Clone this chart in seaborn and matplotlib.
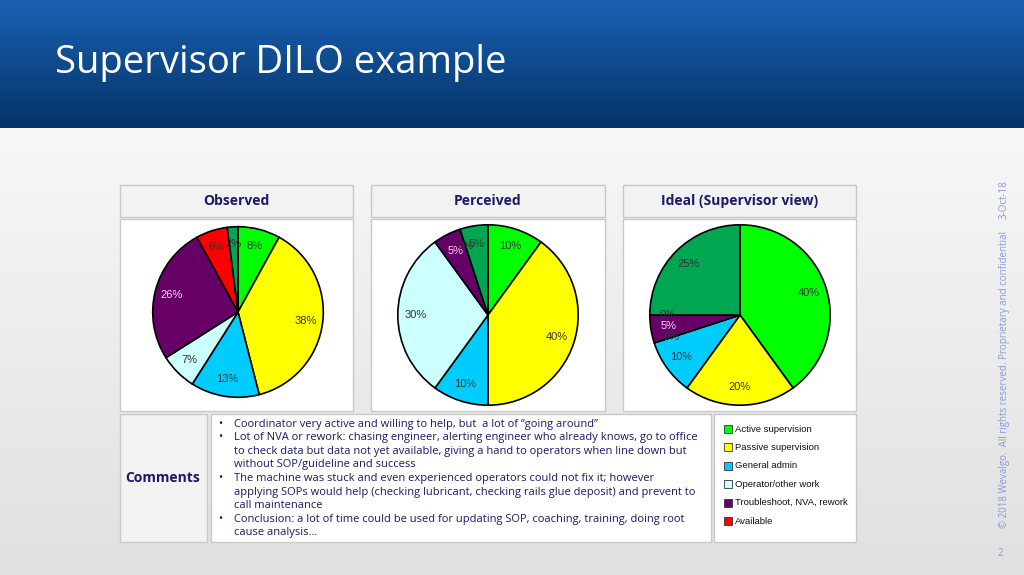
import numpy as np
import matplotlib
matplotlib.use("Agg")
import matplotlib.pyplot as plt
import seaborn as sns
from matplotlib.patches import Rectangle

sns.set_theme(style="white")
plt.rcParams['font.family'] = ['Open Sans', 'DejaVu Sans']

categories = ["Active supervision", "Passive supervision", "General admin",
              "Operator/other work", "Troubleshoot, NVA, rework", "Available", "Other"]
observed = [8, 38, 13, 7, 26, 6, 2]
perceived = [10, 40, 10, 30, 5, 0, 5]
ideal = [40, 20, 10, 0, 5, 0, 25]
titles = ["Observed", "Perceived", "Ideal (Supervisor view)"]
colors = sns.color_palette(["#00ff00", "#ffff00", "#00ccff", "#ccffff", "#660066", "#ff0000", "#00a651"])
comments = [
    "Coordinator very active and willing to help, but  a lot of \u201cgoing around\u201d",
    "Lot of NVA or rework: chasing engineer, alerting engineer who already knows, go to office\nto check data but data not yet available, giving a hand to operators when line down but\nwithout SOP/guideline and success",
    "The machine was stuck and even experienced operators could not fix it; however\napplying SOPs would help (checking lubricant, checking rails glue deposit) and prevent to\ncall maintenance",
    "Conclusion: a lot of time could be used for updating SOP, coaching, training, doing root\ncause analysis\u2026",
]

W, H = 1024, 575
fig = plt.figure(figsize=(W/100, H/100), dpi=100)

bg = fig.add_axes([0, 0, 1, 1])
g = np.linspace(0, 1, 256).reshape(-1, 1)
bg.imshow(np.dstack([0.97 - 0.09*g, 0.97 - 0.09*g, 0.97 - 0.09*g]), extent=[0, W, H, 128], aspect='auto')
hg = np.linspace(0, 1, 128).reshape(-1, 1)
top = np.array([0.10, 0.38, 0.70]); bot = np.array([0.02, 0.20, 0.40])
bg.imshow(top + (bot - top) * hg[..., None], extent=[0, W, 128, 0], aspect='auto')
bg.set_xlim(0, W); bg.set_ylim(H, 0); bg.axis('off')
bg.text(55, 63, "Supervisor DILO example", color='white', fontsize=27.5, va='center', ha='left')

def box(x0, y0, x1, y1, fc='white'):
    bg.add_patch(Rectangle((x0, y0), x1-x0, y1-y0, fc=fc, ec='#c8c8c8', lw=1))

navy = '#1a1a66'
xs = [(120, 353), (371, 605), (623, 856)]
for (x0, x1), t in zip(xs, titles):
    box(x0, 185, x1, 217, fc='#f2f2f2')
    bg.text((x0+x1)/2, 201, t, ha='center', va='center', fontsize=10, fontweight='bold', color=navy)
    box(x0, 219, x1, 411)
box(120, 414, 207, 542, fc='#f2f2f2')
bg.text(163, 478, "Comments", ha='center', va='center', fontsize=10, fontweight='bold', color=navy)
box(211, 414, 711, 542)
box(714, 414, 856, 542)

y = 424
for c in comments:
    bg.text(218, y, "\u2022", fontsize=8, color=navy, va='center')
    for ln in c.split("\n"):
        bg.text(234, y, ln, fontsize=8, color=navy, va='center')
        y += 13.6

for i, cat in enumerate(categories[:6]):
    yy = 429 + i*18.4
    bg.add_patch(Rectangle((724, yy-4), 8, 8, fc=colors[i], ec='#333333', lw=0.6))
    bg.text(735, yy, cat, fontsize=6.8, va='center', family=['Liberation Sans'], color='#111111')

bg.text(1004, 200, "3-Oct-18", rotation=90, fontsize=7, color='#8899dd', ha='center', va='center')
bg.text(1004, 380, "\u00a9 2018 Wevalgo.  All rights reserved. Proprietary and confidential",
        rotation=90, fontsize=7, color='#8899dd', ha='center', va='center')
bg.text(1000, 553, "2", fontsize=7, color='#8899dd', ha='center', va='center')

centers = [(238, 312, 87), (488, 315, 92), (740, 315, 92)]
for (cx, cy, r), vals in zip(centers, [observed, perceived, ideal]):
    ax = fig.add_axes([(cx - r)/W, 1 - (cy + r)/H, 2*r/W, 2*r/H])
    wedges, texts, autos = ax.pie(vals, colors=colors, startangle=90, counterclock=False,
                                  autopct=lambda p: f"{p:.0f}%", pctdistance=0.8,
                                  wedgeprops=dict(edgecolor='black', linewidth=1.2),
                                  textprops=dict(fontsize=8, family=['Liberation Sans'], color='#333333'))
    autos[4].set_color('#ffccff')
    ax.set_xlim(-1.02, 1.02); ax.set_ylim(-1.02, 1.02)
    ax.set_aspect('equal'); ax.axis('off')

fig.savefig("out.png", dpi=100)
